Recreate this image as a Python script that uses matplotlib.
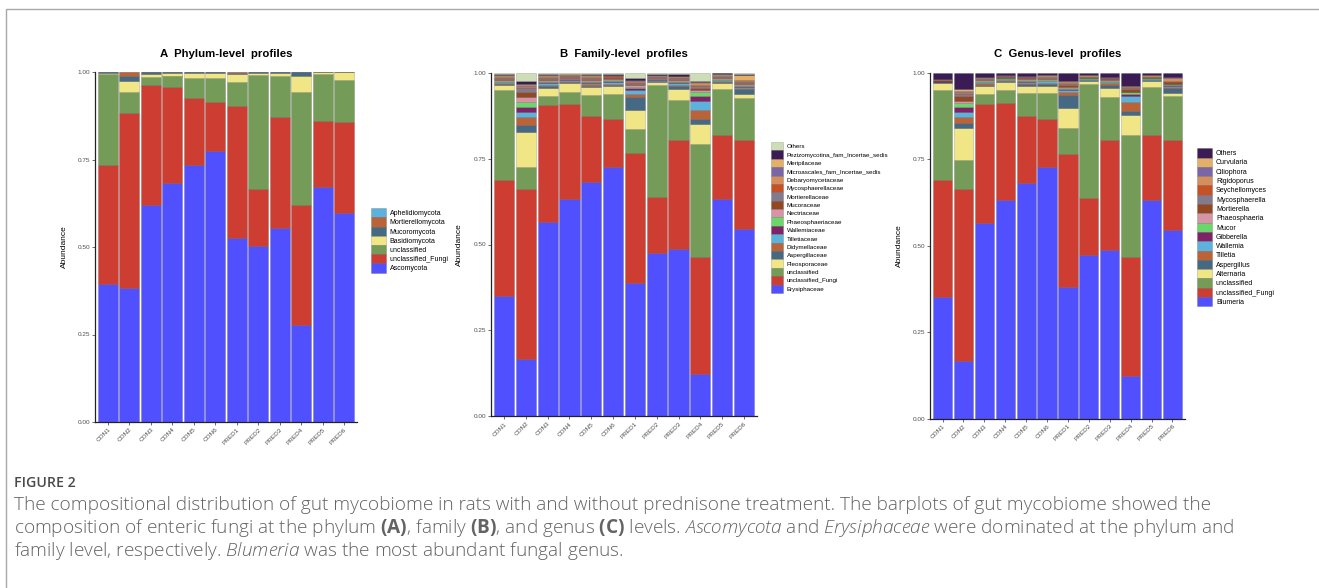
import numpy as np
import matplotlib
matplotlib.use("Agg")
import matplotlib.pyplot as plt
from matplotlib.patches import Patch, Rectangle

plt.rcParams['font.family'] = ['Liberation Sans', 'DejaVu Sans']
plt.rcParams['mathtext.fontset'] = 'custom'
plt.rcParams['mathtext.rm'] = 'Open Sans:weight=light'
plt.rcParams['mathtext.it'] = 'Open Sans:style=italic:weight=light'
plt.rcParams['mathtext.bf'] = 'Open Sans:weight=bold'

samples = ['CON1', 'CON2', 'CON3', 'CON4', 'CON5', 'CON6',
           'PRED1', 'PRED2', 'PRED3', 'PRED4', 'PRED5', 'PRED6']

# ggsci igv palette, in stacking order (bottom of bar first)
igv = ['#5050FF', '#CE3D32', '#749B58', '#F0E685', '#466983', '#BA6338',
       '#5DB1DD', '#802268', '#6BD76B', '#D595A7', '#924822', '#837B8D',
       '#C75127', '#D58F5C', '#7A65A5', '#E4AF69', '#3B1B53', '#CDDEB7']

# ---- A: phylum (one row per sample, taxa bottom -> top)
phylum_taxa = ['Ascomycota', 'unclassified_Fungi', 'unclassified', 'Basidiomycota',
               'Mucoromycota', 'Mortierellomycota', 'Aphelidiomycota']
phylum_abund = [
    [0.394, 0.339, 0.261, 0.004, 0.001, 0.001, 0.000],  # CON1
    [0.384, 0.498, 0.060, 0.033, 0.015, 0.010, 0.000],  # CON2
    [0.620, 0.342, 0.024, 0.009, 0.004, 0.001, 0.000],  # CON3
    [0.682, 0.276, 0.032, 0.008, 0.001, 0.001, 0.000],  # CON4
    [0.733, 0.192, 0.059, 0.012, 0.004, 0.000, 0.000],  # CON5
    [0.773, 0.140, 0.071, 0.014, 0.001, 0.001, 0.000],  # CON6
    [0.525, 0.377, 0.069, 0.022, 0.004, 0.003, 0.000],  # PRED1
    [0.504, 0.161, 0.327, 0.006, 0.001, 0.001, 0.000],  # PRED2
    [0.553, 0.318, 0.118, 0.008, 0.002, 0.001, 0.000],  # PRED3
    [0.278, 0.342, 0.323, 0.047, 0.009, 0.001, 0.001],  # PRED4
    [0.672, 0.189, 0.132, 0.006, 0.001, 0.000, 0.000],  # PRED5
    [0.596, 0.260, 0.121, 0.022, 0.001, 0.000, 0.000],  # PRED6
]

# ---- B: family
family_taxa = ['Erysiphaceae', 'unclassified_Fungi', 'unclassified', 'Pleosporaceae',
               'Aspergillaceae', 'Didymellaceae', 'Tilletiaceae', 'Wallemiaceae',
               'Phaeosphaeriaceae', 'Nectriaceae', 'Mucoraceae', 'Mortierellaceae',
               'Mycosphaerellaceae', 'Debaryomycetaceae', 'Microascales_fam_Incertae_sedis',
               'Meripilaceae', 'Pezizomycotina_fam_Incertae_sedis', 'Others']
family_abund = [
    [0.349, 0.340, 0.261, 0.013, 0.004, 0.003, 0.002, 0.002, 0.002, 0.004, 0.003, 0.002, 0.003, 0.002, 0.001, 0.001, 0.004, 0.004],
    [0.166, 0.496, 0.063, 0.103, 0.020, 0.022, 0.017, 0.014, 0.015, 0.012, 0.015, 0.012, 0.004, 0.003, 0.002, 0.002, 0.010, 0.024],
    [0.565, 0.341, 0.026, 0.024, 0.004, 0.004, 0.005, 0.003, 0.004, 0.003, 0.003, 0.002, 0.004, 0.002, 0.001, 0.001, 0.004, 0.004],
    [0.632, 0.277, 0.034, 0.026, 0.004, 0.003, 0.003, 0.002, 0.002, 0.002, 0.003, 0.002, 0.002, 0.001, 0.001, 0.001, 0.002, 0.003],
    [0.682, 0.191, 0.061, 0.024, 0.004, 0.004, 0.004, 0.003, 0.004, 0.003, 0.003, 0.002, 0.003, 0.002, 0.001, 0.001, 0.003, 0.005],
    [0.725, 0.139, 0.073, 0.023, 0.004, 0.003, 0.005, 0.004, 0.003, 0.002, 0.003, 0.002, 0.003, 0.002, 0.001, 0.001, 0.003, 0.004],
    [0.389, 0.376, 0.070, 0.057, 0.038, 0.007, 0.013, 0.006, 0.003, 0.004, 0.004, 0.003, 0.004, 0.003, 0.002, 0.001, 0.005, 0.015],
    [0.474, 0.163, 0.327, 0.008, 0.003, 0.002, 0.002, 0.002, 0.002, 0.002, 0.002, 0.002, 0.002, 0.001, 0.001, 0.001, 0.003, 0.003],
    [0.486, 0.317, 0.119, 0.030, 0.009, 0.004, 0.004, 0.004, 0.003, 0.003, 0.003, 0.002, 0.003, 0.002, 0.001, 0.001, 0.004, 0.005],
    [0.122, 0.343, 0.327, 0.060, 0.013, 0.026, 0.027, 0.014, 0.013, 0.005, 0.006, 0.004, 0.005, 0.004, 0.002, 0.002, 0.004, 0.023],
    [0.632, 0.186, 0.134, 0.019, 0.003, 0.002, 0.002, 0.002, 0.002, 0.003, 0.002, 0.002, 0.002, 0.001, 0.002, 0.001, 0.003, 0.002],
    [0.544, 0.259, 0.122, 0.014, 0.013, 0.004, 0.003, 0.003, 0.003, 0.002, 0.003, 0.002, 0.004, 0.003, 0.001, 0.013, 0.003, 0.004],
]

# ---- C: genus
genus_taxa = ['Blumeria', 'unclassified_Fungi', 'unclassified', 'Alternaria', 'Aspergillus',
              'Tilletia', 'Wallemia', 'Gibberella', 'Mucor', 'Phaeosphaeria', 'Mortierella',
              'Mycosphaerella', 'Seychellomyces', 'Rigidoporus', 'Ciliophora', 'Curvularia', 'Others']
genus_abund = [
    [0.351, 0.340, 0.258, 0.020, 0.003, 0.001, 0.001, 0.001, 0.001, 0.001, 0.001, 0.001, 0.001, 0.001, 0.001, 0.001, 0.017],
    [0.166, 0.497, 0.085, 0.092, 0.015, 0.017, 0.015, 0.015, 0.010, 0.006, 0.016, 0.004, 0.003, 0.003, 0.003, 0.007, 0.046],
    [0.566, 0.343, 0.028, 0.024, 0.004, 0.004, 0.003, 0.002, 0.003, 0.002, 0.003, 0.002, 0.002, 0.001, 0.001, 0.001, 0.011],
    [0.631, 0.281, 0.037, 0.025, 0.003, 0.002, 0.002, 0.002, 0.002, 0.001, 0.002, 0.001, 0.001, 0.001, 0.001, 0.001, 0.007],
    [0.682, 0.192, 0.066, 0.023, 0.004, 0.004, 0.003, 0.002, 0.003, 0.002, 0.003, 0.002, 0.002, 0.001, 0.001, 0.001, 0.009],
    [0.727, 0.138, 0.075, 0.022, 0.004, 0.005, 0.004, 0.002, 0.003, 0.002, 0.003, 0.002, 0.002, 0.001, 0.001, 0.001, 0.008],
    [0.382, 0.383, 0.076, 0.058, 0.036, 0.010, 0.006, 0.003, 0.003, 0.003, 0.004, 0.003, 0.003, 0.002, 0.002, 0.002, 0.024],
    [0.474, 0.163, 0.330, 0.009, 0.002, 0.002, 0.002, 0.001, 0.001, 0.001, 0.002, 0.001, 0.001, 0.001, 0.001, 0.001, 0.008],
    [0.487, 0.318, 0.124, 0.028, 0.008, 0.004, 0.003, 0.002, 0.002, 0.002, 0.003, 0.002, 0.002, 0.001, 0.001, 0.001, 0.012],
    [0.124, 0.342, 0.353, 0.058, 0.012, 0.026, 0.017, 0.006, 0.005, 0.002, 0.008, 0.002, 0.003, 0.001, 0.001, 0.001, 0.039],
    [0.631, 0.188, 0.139, 0.017, 0.003, 0.002, 0.002, 0.001, 0.001, 0.001, 0.002, 0.001, 0.001, 0.001, 0.001, 0.001, 0.008],
    [0.545, 0.260, 0.128, 0.009, 0.014, 0.003, 0.003, 0.002, 0.002, 0.002, 0.004, 0.002, 0.002, 0.010, 0.001, 0.001, 0.012],
]
genus_colors = igv[:16] + ['#3B1B53']

W, H = 1319, 588
fig = plt.figure(figsize=(W / 100, H / 100), dpi=100)


def px_axes(left, top, right, bottom):
    # pixel box -> figure fraction
    return fig.add_axes([left / W, 1 - bottom / H, (right - left) / W, (bottom - top) / H])


def draw_panel(ax, taxa, abund, colors, title, ylab_x, leg):
    vals = np.array(abund).T
    x = np.arange(len(samples))
    bottom = np.zeros(len(samples))
    for i, taxon in enumerate(taxa):
        ax.bar(x, vals[i], 0.92, bottom=bottom, color=colors[i],
               edgecolor='#00000040', linewidth=0.4)
        bottom += vals[i]
    ax.set_xlim(-0.6, 11.6)
    ax.set_ylim(0, 1)
    ax.set_yticks([0, 0.25, 0.5, 0.75, 1.0])
    ax.set_yticklabels(['0.00', '0.25', '0.50', '0.75', '1.00'])
    ax.set_xticks(x)
    ax.set_xticklabels(samples, rotation=45, ha='right', rotation_mode='anchor')
    ax.tick_params(labelsize=4.6, labelcolor='#4d4d4d', length=2, width=0.5,
                   color='#333333', pad=1.5)
    for s in ['top', 'right']:
        ax.spines[s].set_visible(False)
    for s in ['left', 'bottom']:
        ax.spines[s].set_linewidth(0.9)
        ax.spines[s].set_color('#222222')
    ax.set_title(title, fontsize=8.2, fontweight='bold', pad=11)
    ax.set_ylabel('Abundance', fontsize=6)
    pos = ax.get_position()
    ax.yaxis.set_label_coords(ylab_x / W, (pos.y0 + pos.y1) / 2, transform=fig.transFigure)

    handles = [Patch(facecolor=colors[i], edgecolor='#00000040', linewidth=0.4)
               for i in range(len(taxa))][::-1]
    fs, lx, ly, pw, ph, gap = leg
    em = fs * 100 / 72
    ax.legend(handles, taxa[::-1], loc='upper left',
              bbox_to_anchor=(lx / W, 1 - ly / H), bbox_transform=fig.transFigure,
              frameon=False, fontsize=fs, handlelength=pw / em,
              handleheight=ph / em, labelspacing=0,
              handletextpad=gap / em, borderpad=0, borderaxespad=0)


axA = px_axes(95, 72, 357, 422)
draw_panel(axA, phylum_taxa, phylum_abund, igv[:7], 'A  Phylum-level  profiles', 68,
           (5, 371, 208.3, 15, 11.5, 3.5))
axB = px_axes(491, 72.7, 757, 416.3)
draw_panel(axB, family_taxa, family_abund, igv[:18], 'B  Family-level  profiles', 463,
           (4.5, 771, 142, 12, 10.55, 3.7))
axC = px_axes(930, 72.7, 1185, 418.7)
draw_panel(axC, genus_taxa, genus_abund, genus_colors, 'C  Genus-level  profiles', 903,
           (5, 1197, 148.2, 15, 11.7, 4))

# outer box
fig.add_artist(Rectangle((6 / W, -0.2), 2, 1.2 - 9 / H, transform=fig.transFigure,
                         fill=False, edgecolor='#a8a8a8', linewidth=1.0, clip_on=False))

# caption
cap_color = '#636363'
fig.text(14 / W, 1 - 483 / H, 'FIGURE 2', fontsize=10.2, color='#4a4a4a',
         family='Open Sans', weight='semibold', va='center')
lines = [
    'The compositional distribution of gut mycobiome in rats with and without prednisone '
    'treatment. The barplots of gut mycobiome showed the',
    r'composition of enteric fungi at the phylum $\mathbf{(A)}$, family $\mathbf{(B)}$, and genus '
    r'$\mathbf{(C)}$ levels. $\mathit{Ascomycota}$ and $\mathit{Erysiphaceae}$ were dominated at '
    'the phylum and',
    r'family level, respectively. $\mathit{Blumeria}$ was the most abundant fungal genus.',
]
for yy, line in zip([505, 528, 551], lines):
    fig.text(14 / W, 1 - yy / H, line, fontsize=13.7, color=cap_color,
             family='Open Sans', weight='light', va='center')

fig.savefig('out.png', dpi=100)
